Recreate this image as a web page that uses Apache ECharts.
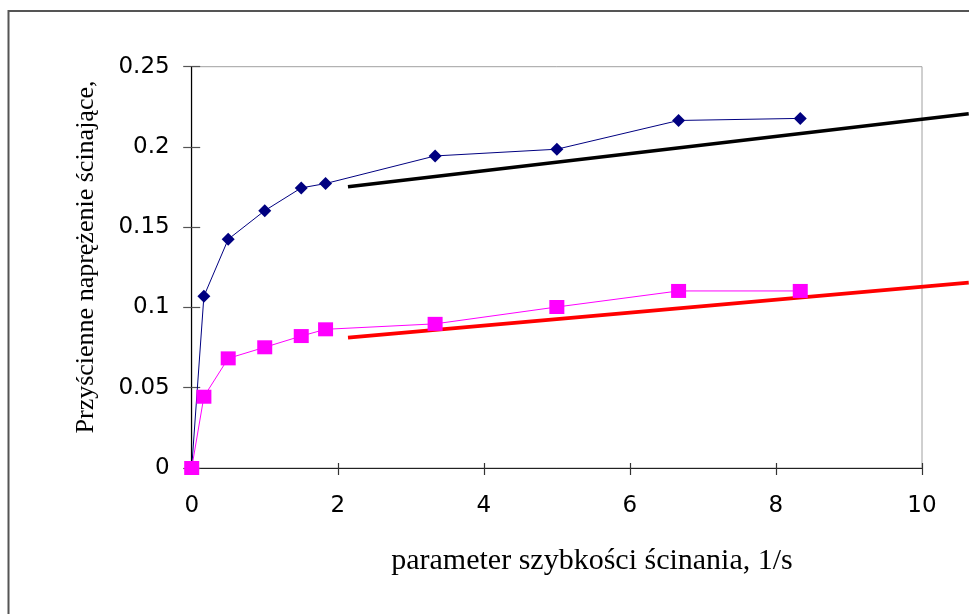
<!DOCTYPE html>
<html>
<head>
<meta charset="utf-8">
<script src="https://cdn.jsdelivr.net/npm/echarts@6/dist/echarts.min.js"></script>
<style>
html,body{margin:0;padding:0;background:#fff;}
#chart{width:969px;height:614px;}
</style>
</head>
<body>
<div id="chart"></div>
<script>
// shear-rate parameter (1/s)
var shearRate = [0, 0.167, 0.5, 1, 1.5, 1.833, 3.333, 5, 6.667, 8.333];
// wall shear stress, series 1 (navy diamonds)
var stressBlue = [0, 0.107, 0.1425, 0.1603, 0.1745, 0.1772, 0.1944, 0.1986, 0.2165, 0.2178];
// wall shear stress, series 2 (magenta squares)
var stressPink = [0, 0.0444, 0.0683, 0.0752, 0.0822, 0.0864, 0.0898, 0.1003, 0.1103, 0.1103];
// straight fitted lines (end points; they run past the plot's right edge to the picture edge)
var blackLineX = [2.14, 10.64];
var blackLineY = [0.1752, 0.2207];
var redLineX = [2.14, 10.64];
var redLineY = [0.0812, 0.1155];
// axis ticks
var xTicks = [0, 2, 4, 6, 8, 10];
var yTicks = [0, 0.05, 0.1, 0.15, 0.2, 0.25];
var xExtendedMax = 10.64;
var xTitle = 'parameter szybkości ścinania, 1/s';
var yTitle = 'Przyścienne naprężenie ścinające,';

function pairs(xs, ys) { return xs.map(function (x, i) { return [x, ys[i]]; }); }

var chart = echarts.init(document.getElementById('chart'), null, {renderer: 'canvas'});
var gLeft = 191.7, gTop = 66.7, gBottom = 146, gRight = 47;
var plotW = 969 - gLeft - gRight;
var xMin = xTicks[0], xMax = xTicks[xTicks.length - 1];
var baseX = {
  type: 'value', min: xMin, max: xMax, interval: xTicks[1] - xTicks[0],
  splitLine: {show: false}
};
var baseY = {
  type: 'value', min: yTicks[0], max: yTicks[yTicks.length - 1], interval: yTicks[1] - yTicks[0],
  splitLine: {show: false}
};
var option = {
  backgroundColor: '#fff',
  animation: false,
  grid: [
    {left: gLeft, right: gRight, top: gTop, bottom: gBottom, show: true, borderColor: '#a0a0a0', borderWidth: 1},
    // same scale, wider extent: lets the fitted lines continue past x = 10
    {left: gLeft, width: plotW * (xExtendedMax - xMin) / (xMax - xMin), top: gTop, bottom: gBottom, show: false}
  ],
  xAxis: [
    Object.assign({}, baseX, {
      gridIndex: 0, position: 'bottom',
      axisLine: {show: true, lineStyle: {color: '#222', width: 1.2}},
      axisTick: {show: true, length: 7, lineStyle: {color: '#333', width: 1.2}},
      axisLabel: {fontFamily: 'DejaVu Sans', fontSize: 23, color: '#000', margin: 27}
    }),
    Object.assign({}, baseX, {
      gridIndex: 0, position: 'bottom',
      axisLine: {show: false},
      axisTick: {show: true, inside: true, length: 5, lineStyle: {color: '#333', width: 1.2}},
      axisLabel: {show: false}
    }),
    {type: 'value', gridIndex: 1, min: xMin, max: xExtendedMax, show: false}
  ],
  yAxis: [
    Object.assign({}, baseY, {
      gridIndex: 0, position: 'left',
      axisLine: {show: true, lineStyle: {color: '#000', width: 1.2}},
      axisTick: {show: true, length: 8.5, lineStyle: {color: '#555', width: 1.2}},
      axisLabel: {fontFamily: 'DejaVu Sans', fontSize: 23, color: '#000', margin: 22}
    }),
    Object.assign({}, baseY, {
      gridIndex: 0, position: 'left',
      axisLine: {show: false},
      axisTick: {show: true, inside: true, length: 8.5, lineStyle: {color: '#555', width: 1.2}},
      axisLabel: {show: false}
    }),
    Object.assign({}, baseY, {gridIndex: 1, show: false})
  ],
  graphic: [
    {type: 'rect', shape: {x: 8.5, y: 11, width: 3000, height: 3000}, style: {fill: 'none', stroke: '#555', lineWidth: 2}, silent: true, z: -1},
    {type: 'text', x: 592, y: 561, style: {text: xTitle, font: '30px "Liberation Serif"', fill: '#000', textAlign: 'center', textVerticalAlign: 'middle'}},
    {type: 'text', x: 86, y: 257, rotation: Math.PI / 2, style: {text: yTitle, font: '26px "Liberation Serif"', fill: '#000', textAlign: 'center', textVerticalAlign: 'middle'}}
  ],
  series: [
    {
      type: 'line', name: 'trend 1', data: pairs(blackLineX, blackLineY), clip: false,
      xAxisIndex: 2, yAxisIndex: 2,
      symbol: 'none', lineStyle: {color: '#000', width: 3.6}, z: 2
    },
    {
      type: 'line', name: 'trend 2', data: pairs(redLineX, redLineY), clip: false,
      xAxisIndex: 2, yAxisIndex: 2,
      symbol: 'none', lineStyle: {color: '#ff0000', width: 3.6}, z: 2
    },
    {
      type: 'line', name: 'seria 1', data: pairs(shearRate, stressBlue),
      xAxisIndex: 0, yAxisIndex: 0,
      symbol: 'diamond', symbolSize: [13, 13], itemStyle: {color: '#000080'},
      lineStyle: {color: '#000080', width: 1}, z: 3
    },
    {
      type: 'line', name: 'seria 2', data: pairs(shearRate, stressPink),
      xAxisIndex: 0, yAxisIndex: 0,
      symbol: 'rect', symbolSize: [15, 14], itemStyle: {color: '#ff00ff'},
      lineStyle: {color: '#ff00ff', width: 1}, z: 4
    }
  ]
};
chart.setOption(option);
</script>
</body>
</html>
